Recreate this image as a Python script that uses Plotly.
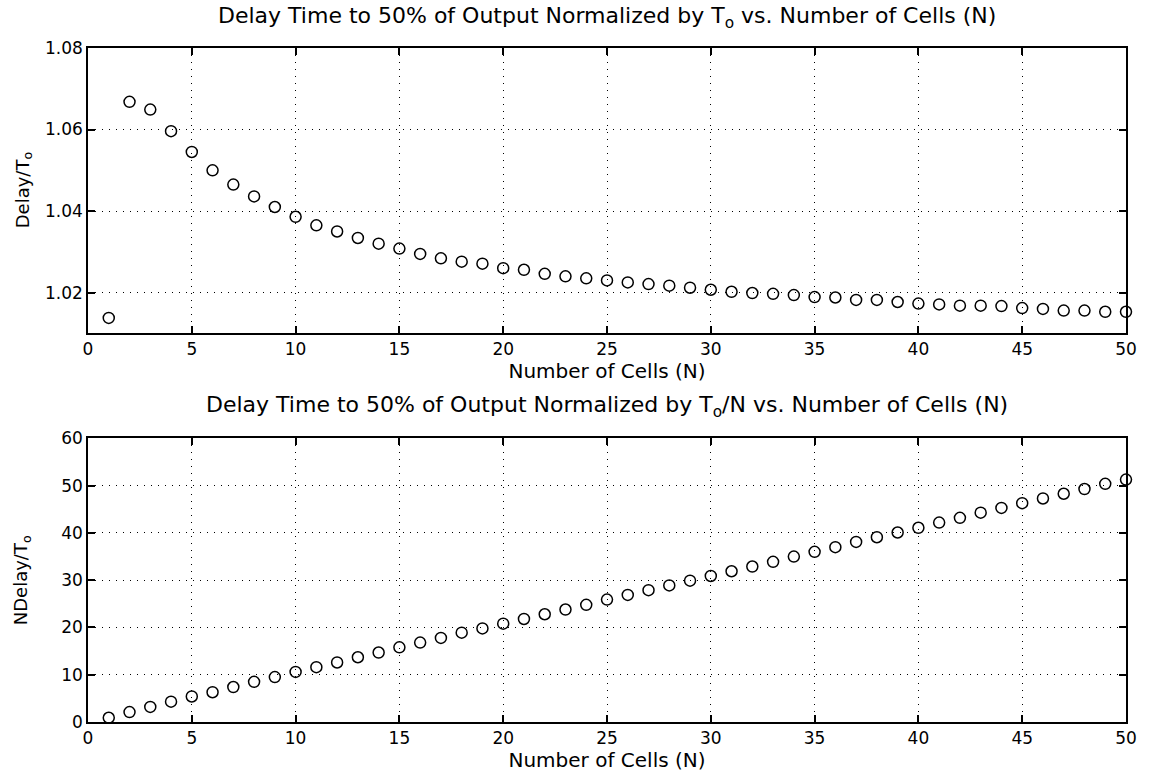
import plotly.graph_objects as go

N = list(range(1, 51))

delay_norm = [
    1.0138, 1.0668, 1.0649, 1.0596, 1.0545, 1.0500, 1.0465, 1.0436, 1.0410, 1.0386,
    1.0365, 1.0350, 1.0334, 1.0320, 1.0308, 1.0295, 1.0284, 1.0276, 1.0271, 1.0260,
    1.0256, 1.0246, 1.0240, 1.0235, 1.0230, 1.0225, 1.0221, 1.0217, 1.0212, 1.0207,
    1.0202, 1.0199, 1.0197, 1.0194, 1.0189, 1.0188, 1.0182, 1.0182, 1.0177, 1.0173,
    1.0171, 1.0168, 1.0168, 1.0167, 1.0162, 1.0160, 1.0156, 1.0156, 1.0153, 1.0153,
]

ndelay_norm = [
    0.9, 2.1, 3.2, 4.3, 5.4, 6.3, 7.4, 8.5, 9.5, 10.6,
    11.6, 12.6, 13.7, 14.7, 15.8, 16.8, 17.8, 18.9, 19.8, 20.8,
    21.8, 22.8, 23.8, 24.8, 25.9, 26.9, 27.9, 28.9, 29.9, 30.9,
    31.9, 32.9, 33.9, 35.0, 36.0, 37.0, 38.1, 39.1, 40.1, 41.1,
    42.2, 43.2, 44.3, 45.3, 46.3, 47.3, 48.3, 49.3, 50.4, 51.3,
]

x_ticks = list(range(0, 51, 5))
top_y_ticks = [1.02, 1.04, 1.06, 1.08]
bot_y_ticks = list(range(0, 61, 10))

FONT = "DejaVu Sans, Verdana, sans-serif"
marker = dict(symbol="circle-open", size=11, color="black", line=dict(width=1.5, color="black"))

fig = go.Figure()
fig.add_trace(go.Scatter(x=N, y=delay_norm, mode="markers", marker=marker,
                         xaxis="x", yaxis="y", showlegend=False, cliponaxis=False))
fig.add_trace(go.Scatter(x=N, y=ndelay_norm, mode="markers", marker=marker,
                         xaxis="x2", yaxis="y2", showlegend=False, cliponaxis=False))

axis_common = dict(
    showline=True, linecolor="black", linewidth=1.5, mirror="ticks",
    ticks="inside", ticklen=7, tickwidth=1.5, tickcolor="black",
    showgrid=True, gridcolor="black", gridwidth=1, griddash="1px,6px",
    zeroline=False, tickfont=dict(family=FONT, size=17, color="black"),
)

top_dom = [0.5778, 1.0]
bot_dom = [0.0, 0.4207]

fig.update_layout(
    width=1149, height=774,
    margin=dict(l=88, r=18, t=48, b=51),
    paper_bgcolor="white", plot_bgcolor="white",
    font=dict(family=FONT, color="black"),
    xaxis=dict(axis_common, domain=[0, 1], anchor="y", range=[0, 50], tickvals=x_ticks,
               title=dict(text="Number of Cells (N)", font=dict(family=FONT, size=20), standoff=0)),
    yaxis=dict(axis_common, domain=top_dom, anchor="x", range=[1.0102, 1.08],
               tickvals=top_y_ticks, tickformat=".2f"),
    xaxis2=dict(axis_common, domain=[0, 1], anchor="y2", range=[0, 50], tickvals=x_ticks,
                title=dict(text="Number of Cells (N)", font=dict(family=FONT, size=20), standoff=0)),
    yaxis2=dict(axis_common, domain=bot_dom, anchor="x2", range=[0, 60], tickvals=bot_y_ticks),
    annotations=[
        dict(text="Delay Time to 50% of Output Normalized by T<sub>o</sub> vs. Number of Cells (N)",
             xref="paper", yref="paper", x=0.5, y=1.0459, showarrow=False,
             font=dict(family=FONT, size=22), xanchor="center", yanchor="middle"),
        dict(text="Delay Time to 50% of Output Normalized by T<sub>o</sub>/N vs. Number of Cells (N)",
             xref="paper", yref="paper", x=0.5, y=0.468, showarrow=False,
             font=dict(family=FONT, size=22), xanchor="center", yanchor="middle"),
        dict(text="Delay/T<sub>o</sub>", xref="paper", yref="paper", x=0, xshift=-64,
             y=(top_dom[0] + top_dom[1]) / 2, textangle=-90, showarrow=False,
             font=dict(family=FONT, size=18), xanchor="center", yanchor="middle"),
        dict(text="NDelay/T<sub>o</sub>", xref="paper", yref="paper", x=0, xshift=-66,
             y=(bot_dom[0] + bot_dom[1]) / 2, textangle=-90, showarrow=False,
             font=dict(family=FONT, size=18), xanchor="center", yanchor="middle"),
    ],
)

fig.write_html("out.html")
